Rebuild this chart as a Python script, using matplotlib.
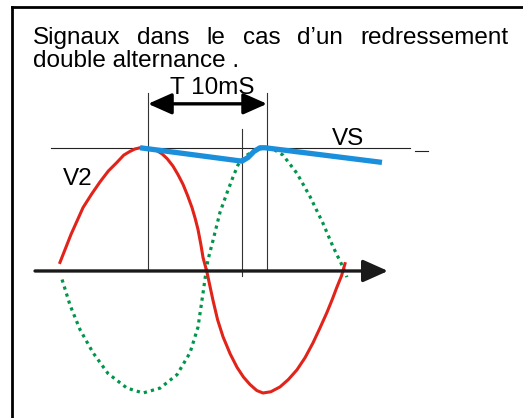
import numpy as np
import matplotlib
matplotlib.use("Agg")
import matplotlib.pyplot as plt
from matplotlib.lines import Line2D

plt.rcParams['font.family'] = ['Liberation Sans', 'DejaVu Sans']

# temps en ms, tension normalisee (1 = crete)
t_v2 = [-0.36, 0.43, 1.29, 1.9, 2.5, 3.1, 3.71, 4.2, 4.64, 5.0, 5.36, 6.07, 6.5, 6.93,
        7.3, 7.71, 8.07, 8.43, 8.75, 9.07, 9.3, 9.5, 9.7, 9.86, 10.14, 10.57, 10.9,
        11.29, 11.8, 12.29, 12.75, 13.21, 13.7, 14.14, 14.7, 15.36, 15.95, 16.57,
        17.15, 17.71, 18.2, 18.71, 19.1, 19.43, 19.75, 20.0]
v_v2 = [0.07, 0.30, 0.52, 0.63, 0.73, 0.82, 0.89, 0.95, 0.98, 1.0, 1.01, 1.0, 0.99,
        0.96, 0.92, 0.86, 0.79, 0.71, 0.62, 0.52, 0.43, 0.34, 0.22, 0.11, -0.01, -0.24,
        -0.40, -0.54, -0.68, -0.79, -0.87, -0.93, -0.98, -1.0, -0.99, -0.95, -0.89,
        -0.81, -0.71, -0.59, -0.47, -0.34, -0.23, -0.13, -0.04, 0.06]

t_inv = [-0.21, 0.36, 1.07, 2.0, 3.07, 4.43, 5.57, 6.79, 8.0, 8.93, 9.5, 9.86, 10.07,
         10.21, 10.57, 11.07, 11.57, 12.0, 12.36, 12.86, 13.57, 14.29, 15.0, 15.57,
         16.57, 17.5, 18.43, 19.14, 19.86, 20.14]
v_inv = [-0.07, -0.28, -0.48, -0.67, -0.84, -0.96, -1.0, -0.96, -0.85, -0.67, -0.46,
         -0.18, -0.01, 0.09, 0.25, 0.48, 0.64, 0.77, 0.87, 0.94, 0.99, 1.01, 0.99, 0.95,
         0.80, 0.61, 0.39, 0.20, 0.03, -0.05]

t_vs = [5.36, 12.64, 13.07, 13.5, 13.93, 14.29, 22.64]
v_vs = [1.01, 0.90, 0.93, 0.98, 1.01, 1.01, 0.89]

# reperes verticaux (debut de periode, fin de decharge, fin de periode)
t_marks = [5.93, 12.64, 14.43]
v_mark_top = [1.46, 1.16, 1.46]
v_mark_bot = [0.0, -0.04, 0.02]

titre1 = ["Signaux", "dans", "le", "cas", "d\u2019un", "redressement"]
titre2 = "double alternance ."

fig = plt.figure(figsize=(5.23, 4.18), dpi=100)
ax = fig.add_axes([0, 0, 1, 1])
ax.set_xlim(-4.643, 32.714)
ax.set_ylim(-1.205, 2.221)
ax.axis('off')

# cadre
fig.add_artist(Line2D([12 / 523, 12 / 523], [0, 1 - 7 / 418], color='black', lw=2.0,
                      transform=fig.transFigure))
fig.add_artist(Line2D([12 / 523, 1], [1 - 7 / 418, 1 - 7 / 418], color='black', lw=2.0,
                      transform=fig.transFigure))

# ligne de crete
ax.plot([-1.0, 24.64], [1.01, 1.01], color='#222222', lw=0.8, zorder=1)
ax.plot([25.0, 25.93], [0.98, 0.98], color='#222222', lw=0.8, zorder=1)

for t, a, b in zip(t_marks, v_mark_top, v_mark_bot):
    ax.plot([t, t], [b, a], color='#333333', lw=0.8, zorder=1)

# axe du temps
ax.annotate('', xy=(23.07, 0), xytext=(-2.14, 0),
            arrowprops=dict(arrowstyle='-|>,head_length=0.85,head_width=0.38',
                            color='#1a1a1a', lw=2.4, shrinkA=0, shrinkB=0,
                            mutation_scale=18), zorder=5)

ax.plot(t_inv, v_inv, color='#00964a', lw=2.3, linestyle=(0, (1, 1.3)), zorder=2)
ax.plot(t_v2, v_v2, color='#e2231a', lw=2.2, zorder=3)
ax.plot(t_vs, v_vs, color='#1a8fdc', lw=3.8, solid_capstyle='butt', zorder=4)

# periode T
ax.annotate('', xy=(t_marks[2], 1.37), xytext=(t_marks[0], 1.37),
            arrowprops=dict(arrowstyle='<|-|>,head_length=0.9,head_width=0.4',
                            color='black', lw=2.4, shrinkA=0, shrinkB=0,
                            mutation_scale=16), zorder=5)
ax.text(10.5, 1.5, "T 10mS", fontsize=17.5, ha='center', va='center')
ax.text(-0.14, 0.75, "V2", fontsize=17.5, ha='left', va='center')
ax.text(19.07, 1.08, "VS", fontsize=17.5, ha='left', va='center')

# titre justifie
mots = [fig.text(0, 1 - 44 / 418, m, fontsize=17.5, va='baseline') for m in titre1]
fig.text(33 / 523, 1 - 67 / 418, titre2, fontsize=17.5, va='baseline')
fig.canvas.draw()
r = fig.canvas.get_renderer()
larg = [m.get_window_extent(r).width for m in mots]
ecart = (508 - 33 - sum(larg)) / (len(mots) - 1)
x = 33
for m, w in zip(mots, larg):
    m.set_x(x / 523)
    x += w + ecart

fig.savefig("out.png", dpi=100, facecolor='white')
